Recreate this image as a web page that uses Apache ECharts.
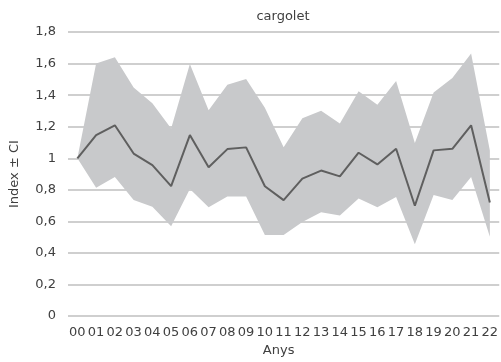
<!DOCTYPE html>
<html>
<head>
<meta charset="utf-8">
<script src="https://cdn.jsdelivr.net/npm/echarts@6/dist/echarts.min.js"></script>
<style>
  html, body { margin: 0; padding: 0; background: #fff; }
  #chart { width: 501px; height: 362px; }
</style>
</head>
<body>
<div id="chart"></div>
<script>
// Yearly index with confidence interval
const years = ['00','01','02','03','04','05','06','07','08','09','10','11','12','13','14','15','16','17','18','19','20','21','22'];
const indexValues = [1.00, 1.147, 1.209, 1.03, 0.957, 0.823, 1.147, 0.943, 1.058, 1.069, 0.823, 0.735, 0.871, 0.922, 0.885, 1.035, 0.961, 1.06, 0.699, 1.05, 1.06, 1.209, 0.72];
const ciUpper = [1.00, 1.601, 1.640, 1.448, 1.349, 1.188, 1.597, 1.304, 1.465, 1.502, 1.32, 1.07, 1.254, 1.301, 1.221, 1.425, 1.339, 1.489, 1.097, 1.417, 1.508, 1.663, 1.05];
const ciLower = [1.00, 0.813, 0.881, 0.736, 0.693, 0.569, 0.806, 0.689, 0.757, 0.757, 0.514, 0.514, 0.596, 0.658, 0.637, 0.745, 0.689, 0.755, 0.456, 0.767, 0.736, 0.881, 0.503];

const font = 'DejaVu Sans';
const textColor = '#404040';

const chart = echarts.init(document.getElementById('chart'), null, { renderer: 'canvas' });
chart.setOption({
  animation: false,
  title: {
    text: 'cargolet',
    left: 278,
    top: 5,
    textAlign: 'center',
    textStyle: { fontFamily: font, fontSize: 13, fontWeight: 'normal', color: textColor }
  },
  grid: { left: 64.5, right: -0.5, top: 32, bottom: 39 },
  xAxis: {
    type: 'category',
    data: years,
    boundaryGap: true,
    name: 'Anys',
    nameLocation: 'middle',
    nameGap: 24,
    nameTextStyle: { fontFamily: font, fontSize: 13, color: textColor, padding: [0, 10, 0, 0] },
    axisLine: { show: false },
    axisTick: { show: false },
    axisLabel: { interval: 0, margin: 10, fontFamily: font, fontSize: 13, color: textColor }
  },
  yAxis: {
    type: 'value',
    min: 0,
    max: 1.8,
    interval: 0.2,
    name: 'Index \u00b1 CI',
    nameLocation: 'middle',
    nameGap: 47,
    nameTextStyle: { fontFamily: font, fontSize: 13, color: textColor },
    axisLine: { show: false },
    axisTick: { show: false },
    axisLabel: {
      margin: 12,
      fontFamily: font,
      fontSize: 13,
      color: textColor,
      formatter: v => (Math.round(v * 10) / 10).toString().replace('.', ',')
    },
    splitLine: { lineStyle: { color: '#bfbfbf', width: 1.5 } }
  },
  series: [
    {
      name: 'lower',
      type: 'line',
      stack: 'ci',
      data: ciLower,
      symbol: 'none',
      lineStyle: { width: 0, opacity: 0 },
      silent: true
    },
    {
      name: 'band',
      type: 'line',
      stack: 'ci',
      data: ciUpper.map((u, i) => u - ciLower[i]),
      symbol: 'none',
      lineStyle: { width: 0, opacity: 0 },
      areaStyle: { color: '#c8c9cb', opacity: 1 },
      silent: true
    },
    {
      name: 'index',
      type: 'line',
      data: indexValues,
      symbol: 'none',
      lineStyle: { color: '#5f5f5f', width: 2 },
      z: 3
    }
  ]
});
</script>
</body>
</html>
